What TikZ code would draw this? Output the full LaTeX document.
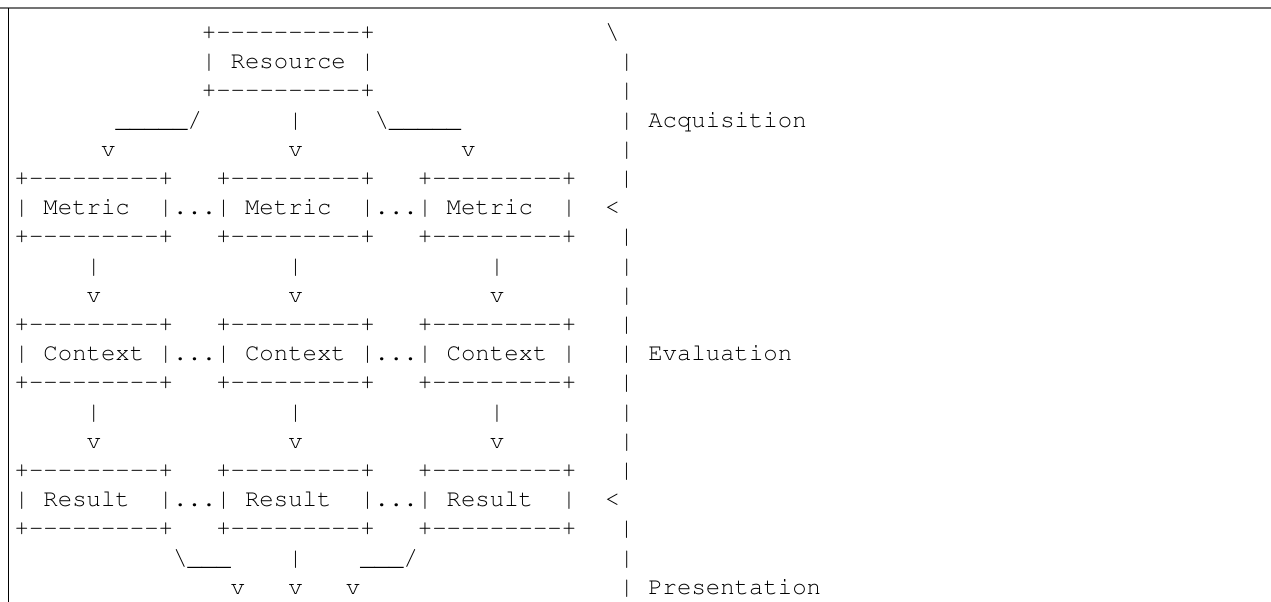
\documentclass[tikz,border=0pt]{standalone}
\usepackage[T1]{fontenc}
\usepackage{courier}
\newcommand{\gap}[1]{\hspace*{#1\dimexpr 0.6em\relax}}
\newcommand{\dashes}[1]{\foreach \k in {1,...,#1}{-{}}}
\tikzset{asc/.style={anchor=base west, inner sep=0pt, font=\ttfamily\fontsize{24}{29}\selectfont}}
\begin{document}
\begin{tikzpicture}[x=1pt,y=-1pt]
\useasboundingbox (0,0) rectangle (1271,602);
%\draw[step=14.41,gray,very thin] (0,0) grid (1271,602); %background grid
\draw[black!55,line width=1.8pt] (0,8.3) -- (1271,8.3);
\draw[black,line width=1.4pt] (8.3,8.3) -- (8.3,602);
\node[asc] (l1) at (14.5,39.5) {\gap{13}+\dashes{10}+\gap{16}\textbackslash};
\node[asc] (l2) at (14.5,68.7) {\gap{13}|~Resource~|\gap{17}|};
\node[asc] (l3) at (14.5,97.9) {\gap{13}+\dashes{10}+\gap{17}|};
\node[asc] (l4) at (14.5,127.1) {\gap{7}\_\_\_\_\_/\gap{6}|\gap{5}\textbackslash\_\_\_\_\_\gap{11}|~Acquisition};
\node[asc] (l5) at (14.5,156.3) {\gap{6}v\gap{12}v\gap{11}v\gap{10}|};
\node[asc] (l6) at (14.5,185.5) {+\dashes{9}+\gap{3}+\dashes{9}+\gap{3}+\dashes{9}+\gap{3}|};
\node[asc] (l7) at (14.5,214.7) {|~Metric~~|...|~Metric~~|...|~Metric~~|\gap{2}<};
\node[asc] (l8) at (14.5,243.9) {+\dashes{9}+\gap{3}+\dashes{9}+\gap{3}+\dashes{9}+\gap{3}|};
\node[asc] (l9) at (14.5,273.1) {\gap{5}|\gap{13}|\gap{13}|\gap{8}|};
\node[asc] (l10) at (14.5,302.3) {\gap{5}v\gap{13}v\gap{13}v\gap{8}|};
\node[asc] (l11) at (14.5,331.5) {+\dashes{9}+\gap{3}+\dashes{9}+\gap{3}+\dashes{9}+\gap{3}|};
\node[asc] (l12) at (14.5,360.7) {|~Context~|...|~Context~|...|~Context~|\gap{3}|~Evaluation};
\node[asc] (l13) at (14.5,389.9) {+\dashes{9}+\gap{3}+\dashes{9}+\gap{3}+\dashes{9}+\gap{3}|};
\node[asc] (l14) at (14.5,419.1) {\gap{5}|\gap{13}|\gap{13}|\gap{8}|};
\node[asc] (l15) at (14.5,448.3) {\gap{5}v\gap{13}v\gap{13}v\gap{8}|};
\node[asc] (l16) at (14.5,477.5) {+\dashes{9}+\gap{3}+\dashes{9}+\gap{3}+\dashes{9}+\gap{3}|};
\node[asc] (l17) at (14.5,506.7) {|~Result~~|...|~Result~~|...|~Result~~|\gap{2}<};
\node[asc] (l18) at (14.5,535.9) {+\dashes{9}+\gap{3}+\dashes{9}+\gap{3}+\dashes{9}+\gap{3}|};
\node[asc] (l19) at (14.5,565.1) {\gap{11}\textbackslash\_\_\_\gap{4}|\gap{4}\_\_\_/\gap{14}|};
\node[asc] (l20) at (14.5,594.3) {\gap{15}v\gap{3}v\gap{3}v\gap{18}|~Presentation};
\end{tikzpicture}
\end{document}
